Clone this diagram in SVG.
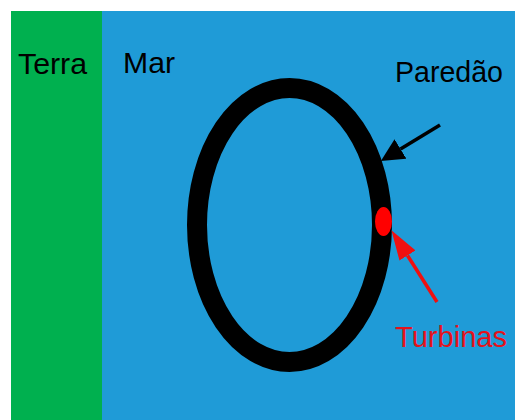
<svg xmlns="http://www.w3.org/2000/svg" width="515" height="420" viewBox="0 0 515 420">
<defs>
<style>
.lbl{font-family:"Liberation Sans","Open Sans",sans-serif;font-size:30px;fill:#000}
.red{fill:#E4121B}
</style>
<marker id="ah-black" markerWidth="23" markerHeight="23" refX="0" refY="11.5" orient="auto" markerUnits="userSpaceOnUse"><path d="M0,0 L23,11.5 L0,23 Z" fill="#000"/></marker>
<marker id="ah-red" markerWidth="30" markerHeight="19" refX="0" refY="9.5" orient="auto" markerUnits="userSpaceOnUse"><path d="M0,0 L30,9.5 L0,19 Z" fill="#F01010"/></marker>
</defs>
<rect width="515" height="420" fill="#fff"/>
<g id="terra"><rect x="11" y="11" width="91" height="409" fill="#00B04F"/><text class="lbl" x="18" y="74" textLength="69" lengthAdjust="spacingAndGlyphs">Terra</text></g>
<g id="mar"><rect x="102" y="11" width="413" height="409" fill="#1F9BD7"/><text class="lbl" x="123" y="73" textLength="52" lengthAdjust="spacingAndGlyphs">Mar</text></g>
<g id="paredao"><ellipse cx="289.5" cy="225" rx="92.5" ry="137" fill="none" stroke="#000" stroke-width="20"/><text class="lbl" x="395" y="82" textLength="108" lengthAdjust="spacingAndGlyphs">Paredão</text></g>
<g id="turbinas"><ellipse cx="383.5" cy="221.5" rx="8.5" ry="14.5" fill="#FF0000"/><text class="lbl red" x="395" y="347" textLength="112" lengthAdjust="spacingAndGlyphs">Turbinas</text></g>
<g id="connectors">
<line x1="440" y1="125" x2="400.5" y2="149" stroke="#000" stroke-width="3.5" marker-end="url(#ah-black)"/>
<line x1="437" y1="302" x2="407.5" y2="255.5" stroke="#F01010" stroke-width="3.5" marker-end="url(#ah-red)"/>
</g>
</svg>
